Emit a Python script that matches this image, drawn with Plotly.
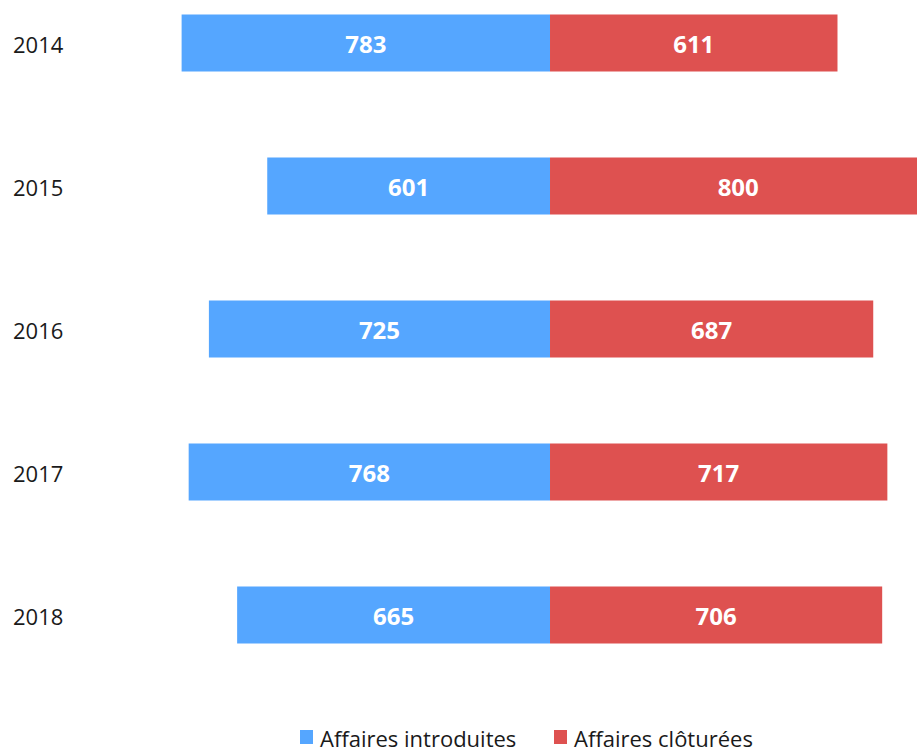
import plotly.graph_objects as go

years = ["2014", "2015", "2016", "2017", "2018"]
introduites = [783, 601, 725, 768, 665]
cloturees = [611, 800, 687, 717, 706]
series_names = ["Affaires introduites", "Affaires clôturées"]

BLUE = "#55A6FF"
RED = "#DE5150"
FONT = "Open Sans"
W, H = 917, 747
PLOT_H = 690

pos = list(range(len(years)))

fig = go.Figure()
fig.add_trace(go.Bar(
    y=pos, x=[-v for v in introduites], orientation="h",
    name=series_names[0], marker=dict(color=BLUE, line=dict(width=0)),
    text=[str(v) for v in introduites], textposition="inside",
    insidetextanchor="middle",
    textfont=dict(family=FONT, size=24, color="white", weight="bold"),
    hoverinfo="skip",
))
fig.add_trace(go.Bar(
    y=pos, x=cloturees, orientation="h",
    name=series_names[1], marker=dict(color=RED, line=dict(width=0)),
    text=[str(v) for v in cloturees], textposition="inside",
    insidetextanchor="middle",
    textfont=dict(family=FONT, size=24, color="white", weight="bold"),
    hoverinfo="skip",
))

# year labels on the left
for i, yr in zip(pos, years):
    fig.add_annotation(x=12 / W, xref="paper", y=i, yref="y", yshift=-1, text=yr,
                       showarrow=False, xanchor="left", borderpad=0,
                       font=dict(family=FONT, size=22, color="#1a1a1a"))

# hand-made legend below the bars
legend_y = (PLOT_H - 737.5) / PLOT_H
for x0, color, name in [(300, BLUE, series_names[0]), (554, RED, series_names[1])]:
    fig.add_shape(type="rect", xref="paper", yref="paper",
                  x0=x0 / W, x1=(x0 + 13) / W,
                  y0=(PLOT_H - 730) / PLOT_H, y1=(PLOT_H - 744) / PLOT_H,
                  fillcolor=color, line=dict(width=0))
    fig.add_annotation(x=(x0 + 19) / W, xref="paper", y=legend_y, yref="paper",
                       text=name, showarrow=False, xanchor="left", yanchor="middle",
                       borderpad=0, font=dict(family=FONT, size=22, color="#1a1a1a"))

fig.update_layout(
    barmode="relative", bargap=0.6,
    width=W, height=H,
    paper_bgcolor="white", plot_bgcolor="white",
    margin=dict(l=0, r=0, t=0, b=H - PLOT_H, autoexpand=False),
    font=dict(family=FONT, color="#1a1a1a"),
    showlegend=False,
    xaxis=dict(range=[-1169, 780], visible=False, fixedrange=True),
    yaxis=dict(range=[4.5245, -0.3007], visible=False, fixedrange=True),
)

fig.write_html("out.html", config={"displayModeBar": False},
               post_script="document.body.style.margin='0';document.body.style.overflow='hidden';")
